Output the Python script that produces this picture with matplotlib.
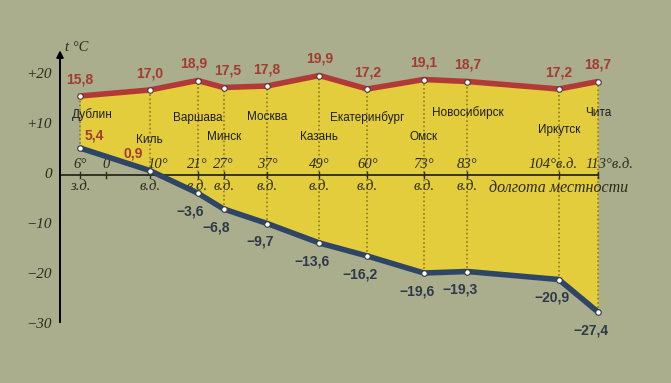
import matplotlib.pyplot as plt

# Data
cities = ['Дублин', 'Киль', 'Варшава', 'Минск', 'Москва', 'Казань',
          'Екатеринбург', 'Омск', 'Новосибирск', 'Иркутск', 'Чита']
lon = [-6, 10, 21, 27, 37, 49, 60, 73, 83, 104, 113]
t_july = [15.8, 17.0, 18.9, 17.5, 17.8, 19.9, 17.2, 19.1, 18.7, 17.2, 18.7]
t_jan = [5.4, 0.9, -3.6, -6.8, -9.7, -13.6, -16.2, -19.6, -19.3, -20.9, -27.4]
lon_top = ['6°', '10°', '21°', '27°', '37°', '49°', '60°', '73°', '83°',
           '104°в.д.', '113°в.д.']
lon_bottom = ['з.д.', 'в.д.', 'в.д.', 'в.д.', 'в.д.', 'в.д.', 'в.д.',
              'в.д.', 'в.д.', '', '']
y_ticks = [20, 10, 0, -10, -20, -30]
y_labels = ['+20', '+10', '0', '−10', '−20', '−30']

# Colours
bg = '#aaae8c'
yellow = '#e3cd3c'
red = '#b23a36'
blue = '#2f4566'
dotc = '#8c7a22'
axc = '#2a2a1e'
redtxt = '#a23c32'
bluetxt = '#2d3948'

W, H = 671, 383
fig = plt.figure(figsize=(W / 100, H / 100), dpi=100)
fig.patch.set_facecolor(bg)
ax = fig.add_axes([60 / W, 1 - 335 / H, 560 / W, 290 / H])
ax.set_facecolor(bg)
ppd = 518 / 119  # pixels per degree
x0 = -6 - 20 / ppd
ax.set_xlim(x0, x0 + 560 / ppd)
ax.set_ylim(-32, 26)
for s in ax.spines.values():
    s.set_visible(False)
ax.set_xticks([])
ax.set_yticks([])

serif = dict(family='Liberation Serif', style='italic', color=axc)
narrow = ['Liberation Sans Narrow', 'Liberation Sans']

# yellow band between the two curves
ax.fill_between(lon, t_jan, t_july, color=yellow, zorder=1, lw=0)

# dotted meridians
for x, a, b in zip(lon, t_jan, t_july):
    ax.plot([x, x], [a, b], ls=(0, (1, 1.5)), color=dotc, lw=1.2, zorder=2)

# x axis (longitude)
ax.plot([x0, lon[-1]], [0, 0], color=axc, lw=1.3, zorder=3)
for x in lon:
    ax.plot([x, x], [-0.6, 0.6], color=axc, lw=1, zorder=3)
ax.plot([0, 0], [-0.6, 0.6], color=axc, lw=1, zorder=3)

# y axis with arrow
ax.annotate('', xy=(x0, 25.5), xytext=(x0, -30),
            arrowprops=dict(arrowstyle='-|>', color='black', lw=1.4,
                            mutation_scale=10), zorder=4)
ax.text(x0 + 1.2, 25.5, 't °C', fontsize=10.5, va='center', ha='left', **serif)
for v, lab in zip(y_ticks, y_labels):
    ax.text(x0 - 1.8, v, lab, fontsize=11, ha='right', va='center', **serif)

# curves
ax.plot(lon, t_july, color=red, lw=4, zorder=5, solid_capstyle='butt')
ax.plot(lon, t_jan, color=blue, lw=4, zorder=5, solid_capstyle='butt')
ax.plot(lon, t_july, 'o', ms=4, mfc='white', mec='#5a3030', mew=0.8, zorder=6)
ax.plot(lon, t_jan, 'o', ms=4, mfc='white', mec='#303a48', mew=0.8, zorder=6)

bold = dict(family=narrow, weight='bold', fontsize=10)
july_dx = [0, 0, -3, 3, 0, 0, 0, 0, 0, 0, 0]
for x, v, dx in zip(lon, t_july, july_dx):
    ax.annotate(f'{v:.1f}'.replace('.', ','), (x, v), xytext=(dx, 7),
                textcoords='offset points', ha='center', va='bottom',
                color=redtxt, **bold)
for i, (x, v) in enumerate(zip(lon, t_jan)):
    lab = f'{v:.1f}'.replace('.', ',').replace('-', '−')
    if i == 0:
        ax.annotate(lab, (x, v), xytext=(3, 4), textcoords='offset points',
                    ha='left', va='bottom', color=redtxt, **bold)
    elif v > 0:
        ax.annotate(lab, (x, v), xytext=(-5, 7), textcoords='offset points',
                    ha='right', va='bottom', color=redtxt, **bold)
    else:
        ax.annotate(lab, (x, v), xytext=(-5, -8), textcoords='offset points',
                    ha='center', va='top', color=bluetxt, **bold)

# city names at alternating heights
name_y = [12, 7, 11.5, 7.5, 11.5, 7.5, 11.5, 7.5, 12.5, 9, 12.5]
for i, (x, c, y) in enumerate(zip(lon, cities, name_y)):
    ax.text(x - 1.8 if i == 0 else x, y, c, fontsize=8.5, color='#1e1e1e',
            ha='left' if i == 0 else 'center', va='center', family=narrow)

# longitude labels
top_dx = [0, 6, 0, 0, 0, 0, 0, 0, 0, -4, 8]
for x, a, b, dx in zip(lon, lon_top, lon_bottom, top_dx):
    ax.annotate(a, (x, 0.9), xytext=(dx, 0), textcoords='offset points',
                fontsize=10.5, ha='center', va='bottom', **serif)
    if b:
        ax.text(x, -0.9, b, fontsize=10.5, ha='center', va='top', **serif)
ax.text(0, 0.9, '0', fontsize=10.5, ha='center', va='bottom', **serif)
ax.text(88, -0.9, 'долгота местности', fontsize=11.5, ha='left', va='top',
        **serif)

fig.savefig('out.png', dpi=100, facecolor=bg)
